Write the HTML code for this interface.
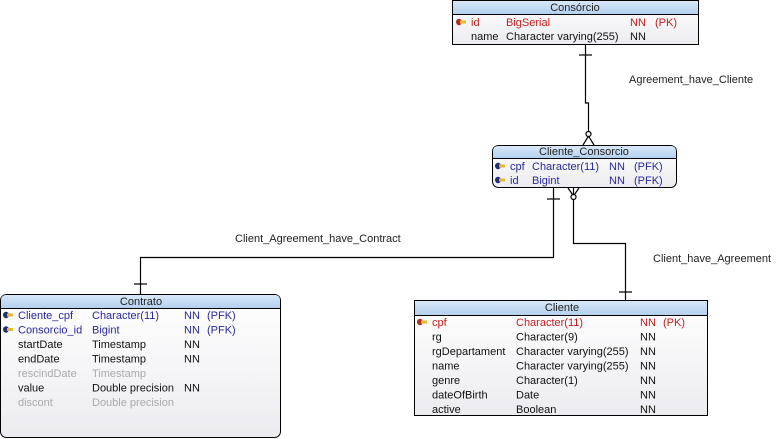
<!DOCTYPE html>
<html><head><meta charset="utf-8"><style>
html,body{margin:0;padding:0;background:#fff;width:779px;height:439px;overflow:hidden}
svg{display:block}
text{font-family:"Liberation Sans",sans-serif;font-size:11px}
</style></head><body>
<svg width="779" height="439" viewBox="0 0 779 439">
<defs>
<linearGradient id="hd" x1="0" y1="0" x2="0" y2="1"><stop offset="0" stop-color="#d8e8f8"/><stop offset="1" stop-color="#b4d0ee"/></linearGradient>
<linearGradient id="bd" x1="0" y1="0" x2="0" y2="1"><stop offset="0" stop-color="#ffffff"/><stop offset="1" stop-color="#ececf0"/></linearGradient>
<g id="key"><ellipse cx="3" cy="0" rx="3" ry="3.2" fill="#b03020"/><rect x="4" y="-1.5" width="6" height="3" fill="#e8b830"/></g>
<g id="key2"><ellipse cx="3" cy="0" rx="3" ry="3.2" fill="#203070"/><rect x="4" y="-1.5" width="6" height="3" fill="#e8b830"/></g>
</defs>
<g stroke="#000" stroke-width="1.2" fill="none">
<path d="M585.5 45 V103 H588.5 V133"/>
<path d="M579 55 H592"/>
<path d="M583 145 L588.5 136 L594 145"/>
<circle cx="588.5" cy="134" r="2.5" fill="#fff"/>
<path d="M553.5 188 V257.5 H140.5 V294"/>
<path d="M547 199 H560"/>
<path d="M134 284 H147"/>
<path d="M573.5 188 V243.5 H625.5 V300"/>
<path d="M568 188 L573.5 196 L579 188"/>
<circle cx="573.5" cy="197" r="2.5" fill="#fff"/>
<path d="M619 292 H632"/>
</g>
<text x="629" y="83" fill="#222">Agreement_have_Cliente</text>
<text x="235" y="242" fill="#222">Client_Agreement_have_Contract</text>
<text x="653" y="262" fill="#222">Client_have_Agreement</text>

<rect x="452.5" y="0.5" width="246" height="44" fill="url(#bd)" stroke="#000"/>
<rect x="453" y="1" width="245" height="13" fill="url(#hd)"/>
<line x1="452.5" y1="14.5" x2="698.5" y2="14.5" stroke="#000"/>
<text x="575" y="11" text-anchor="middle" fill="#222">Consórcio</text>
<use href="#key" x="456" y="22"/>
<text x="471" y="26" fill="#c02020">id</text><text x="506" y="26" fill="#c02020">BigSerial</text><text x="630" y="26" fill="#c02020">NN</text><text x="655" y="26" fill="#c02020">(PK)</text>
<text x="471" y="40" fill="#111">name</text><text x="506" y="40" fill="#111">Character varying(255)</text><text x="630" y="40" fill="#111">NN</text>

<rect x="492.5" y="145.5" width="184" height="42" rx="6" fill="url(#bd)" stroke="#000"/>
<path d="M493 158 V151.5 Q493 146 498.5 146 H670.5 Q676 146 676 151.5 V158 Z" fill="url(#hd)"/>
<line x1="492.5" y1="158.5" x2="676.5" y2="158.5" stroke="#000"/>
<text x="584" y="155" text-anchor="middle" fill="#222">Cliente_Consorcio</text>
<use href="#key2" x="495" y="166"/>
<text x="510" y="170" fill="#2a2a9a">cpf</text><text x="532" y="170" fill="#2a2a9a">Character(11)</text><text x="609" y="170" fill="#2a2a9a">NN</text><text x="634" y="170" fill="#2a2a9a">(PFK)</text>
<use href="#key2" x="495" y="180"/>
<text x="510" y="184" fill="#2a2a9a">id</text><text x="532" y="184" fill="#2a2a9a">Bigint</text><text x="609" y="184" fill="#2a2a9a">NN</text><text x="634" y="184" fill="#2a2a9a">(PFK)</text>

<rect x="0.5" y="294.5" width="280" height="143" rx="6" fill="url(#bd)" stroke="#000"/>
<path d="M1 308 V300.5 Q1 295 6.5 295 H274.5 Q280 295 280 300.5 V308 Z" fill="url(#hd)"/>
<line x1="0.5" y1="308.5" x2="280.5" y2="308.5" stroke="#000"/>
<text x="141" y="305" text-anchor="middle" fill="#222">Contrato</text>
<use href="#key2" x="3" y="315"/>
<text x="18" y="319" fill="#2a2a9a">Cliente_cpf</text><text x="92" y="319" fill="#2a2a9a">Character(11)</text><text x="184" y="319" fill="#2a2a9a">NN</text><text x="207" y="319" fill="#2a2a9a">(PFK)</text>
<use href="#key2" x="3" y="329.5"/>
<text x="18" y="333.5" fill="#2a2a9a">Consorcio_id</text><text x="92" y="333.5" fill="#2a2a9a">Bigint</text><text x="184" y="333.5" fill="#2a2a9a">NN</text><text x="207" y="333.5" fill="#2a2a9a">(PFK)</text>
<text x="18" y="348" fill="#111">startDate</text><text x="92" y="348" fill="#111">Timestamp</text><text x="184" y="348" fill="#111">NN</text>
<text x="18" y="362.5" fill="#111">endDate</text><text x="92" y="362.5" fill="#111">Timestamp</text><text x="184" y="362.5" fill="#111">NN</text>
<text x="18" y="377" fill="#aaa">rescindDate</text><text x="92" y="377" fill="#aaa">Timestamp</text>
<text x="18" y="391.5" fill="#111">value</text><text x="92" y="391.5" fill="#111">Double precision</text><text x="184" y="391.5" fill="#111">NN</text>
<text x="18" y="406" fill="#aaa">discont</text><text x="92" y="406" fill="#aaa">Double precision</text>

<rect x="414.5" y="300.5" width="293" height="115" fill="url(#bd)" stroke="#000"/>
<rect x="415" y="301" width="292" height="14" fill="url(#hd)"/>
<line x1="414.5" y1="315.5" x2="707.5" y2="315.5" stroke="#000"/>
<text x="562" y="311" text-anchor="middle" fill="#222">Cliente</text>
<use href="#key" x="417" y="322"/>
<text x="432" y="326" fill="#c02020">cpf</text><text x="516" y="326" fill="#c02020">Character(11)</text><text x="640" y="326" fill="#c02020">NN</text><text x="663" y="326" fill="#c02020">(PK)</text>
<text x="432" y="340.5" fill="#111">rg</text><text x="516" y="340.5" fill="#111">Character(9)</text><text x="640" y="340.5" fill="#111">NN</text>
<text x="432" y="355" fill="#111">rgDepartament</text><text x="516" y="355" fill="#111">Character varying(255)</text><text x="640" y="355" fill="#111">NN</text>
<text x="432" y="369.5" fill="#111">name</text><text x="516" y="369.5" fill="#111">Character varying(255)</text><text x="640" y="369.5" fill="#111">NN</text>
<text x="432" y="384" fill="#111">genre</text><text x="516" y="384" fill="#111">Character(1)</text><text x="640" y="384" fill="#111">NN</text>
<text x="432" y="398.5" fill="#111">dateOfBirth</text><text x="516" y="398.5" fill="#111">Date</text><text x="640" y="398.5" fill="#111">NN</text>
<text x="432" y="413" fill="#111">active</text><text x="516" y="413" fill="#111">Boolean</text><text x="640" y="413" fill="#111">NN</text>
</svg>
</body></html>
